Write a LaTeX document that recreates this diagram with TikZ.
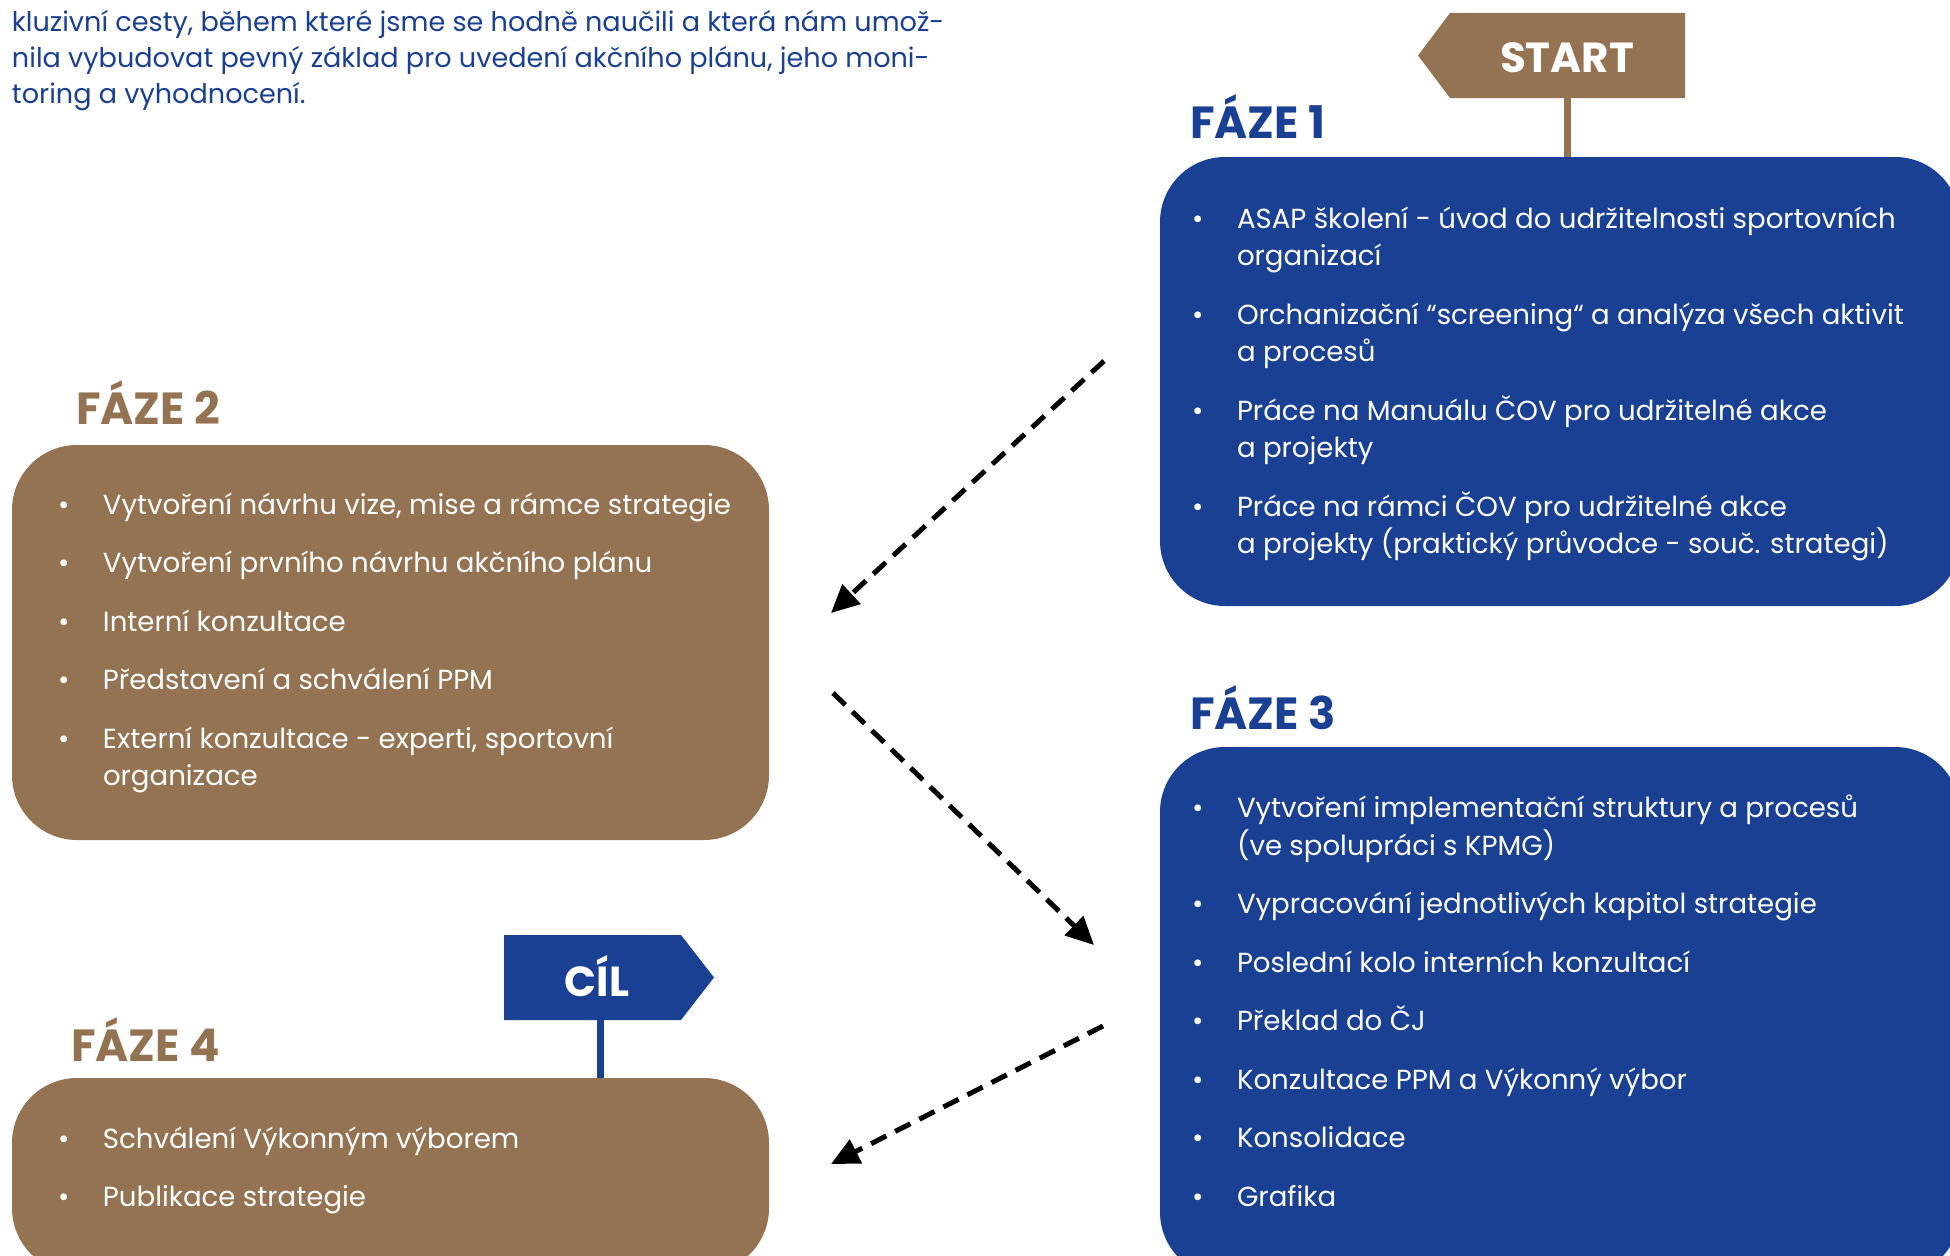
\documentclass[tikz,border=0pt]{standalone}
\usepackage{fontspec}
\setmainfont{Poppins}
\usetikzlibrary{arrows.meta}
\usetikzlibrary{positioning}

\newcommand{\bul}{\makebox[45pt][l]{\textbullet}}
\newcommand{\ind}{\hspace*{45pt}}

\begin{document}
\begin{tikzpicture}[x=1pt, y=-1pt, every node/.style={inner sep=0, outer sep=0},
    phasebox/.style={rounded corners=65pt, anchor=north west},
    phasetitle/.style={anchor=base west, font=\fontsize{45}{50}\selectfont\bfseries},
    listtext/.style={anchor=base west, align=left, text=white, font=\fontsize{27.6}{37.5}\selectfont},
    signtext/.style={anchor=base, text=white, font=\fontsize{42}{50}\selectfont\bfseries},
    post/.style={line width=7pt},
    flow/.style={line width=5pt, dash pattern=on 17pt off 10pt, -{Triangle[length=28pt, width=26pt]}}]
        % Colors
        \definecolor{czblue}{RGB}{26,64,148}
        \definecolor{czbrown}{RGB}{147,115,82}

        \useasboundingbox (0,0) rectangle (1950,1255);
        \clip (0,0) rectangle (1950,1255);

        % Intro text (base = last line)
        \node[anchor=base west, align=left, text=czblue, font=\fontsize{27.1}{36}\selectfont] (intro) at (12,103)
          {kluzivní cesty, během které jsme se hodně naučili a která nám umož-\\
           nila vybudovat pevný základ pro uvedení akčního plánu, jeho moni-\\
           toring a vyhodnocení.};

        % Phase boxes
        \node[phasebox, fill=czblue, minimum width=800pt, minimum height=449pt] (box1) at (1160,157) {};
        \node[phasebox, fill=czbrown, minimum width=757pt, minimum height=395pt] (box2) at (12,445) {};
        \node[phasebox, fill=czblue, minimum width=800pt, minimum height=530pt] (box3) at (1160,747) {};
        \node[phasebox, fill=czbrown, minimum width=757pt, minimum height=195pt] (box4) at (12,1078) {};

        \node[phasetitle, text=czblue] (title1) at (1190,138) {FÁZE 1};
        \node[phasetitle, text=czbrown] (title2) at (76,424) {FÁZE 2};
        \node[phasetitle, text=czblue] (title3) at (1190,729) {FÁZE 3};
        \node[phasetitle, text=czbrown] (title4) at (71,1061) {FÁZE 4};

        % START sign
        \fill[czbrown] (1450,13) -- (1685,13) -- (1685,98) -- (1450,98) -- (1418,55.5) -- cycle;
        \node[signtext] (start) at (1567,72) {START};
        \draw[post, czbrown] (start |- 0,98) -- (start |- box1.north);

        % CIL sign
        \fill[czblue] (504,935) -- (681,935) -- (714,977.5) -- (681,1020) -- (504,1020) -- cycle;
        \node[signtext] (goal) at (597,996) {CÍL};
        \draw[post, czblue] (600,1020) -- (600,1078);

        % Lists (base = last line)
        \node[listtext] (list1) at (1192,553.5)
          {\bul ASAP školení - úvod do udržitelnosti sportovních\\
           \ind organizací\\[21pt]
           \bul Orchanizační “screening“ a analýza všech aktivit\\
           \ind a procesů\\[21pt]
           \bul Práce na Manuálu ČOV pro udržitelné akce\\
           \ind a projekty\\[21pt]
           \bul Práce na rámci ČOV pro udržitelné akce\\
           \ind a projekty (praktický průvodce - souč. strategi)};

        \node[listtext] (list2) at (58,785.5)
          {\bul Vytvoření návrhu vize, mise a rámce strategie\\[21pt]
           \bul Vytvoření prvního návrhu akčního plánu\\[21pt]
           \bul Interní konzultace\\[21pt]
           \bul Představení a schválení PPM\\[21pt]
           \bul Externí konzultace - experti, sportovní\\
           \ind organizace};

        \node[listtext] (list3) at (1192,1206)
          {\bul Vytvoření implementační struktury a procesů\\
           \ind (ve spolupráci s KPMG)\\[21pt]
           \bul Vypracování jednotlivých kapitol strategie\\[21pt]
           \bul Poslední kolo interních konzultací\\[21pt]
           \bul Překlad do ČJ\\[21pt]
           \bul Konzultace PPM a Výkonný výbor\\[21pt]
           \bul Konsolidace\\[21pt]
           \bul Grafika};

        \node[listtext] (list4) at (58,1206.5)
          {\bul Schválení Výkonným výborem\\[21pt]
           \bul Publikace strategie};

        % Flow arrows
        \coordinate (f1a) at (1104,361);
        \coordinate (f1b) at (831,613);
        \coordinate (f2a) at (833,693);
        \coordinate (f2b) at (1094,945);
        \coordinate (f3a) at (1103,1026);
        \coordinate (f3b) at (831,1164);
        \draw[flow] (f1a) -- (f1b);
        \draw[flow] (f2a) -- (f2b);
        \draw[flow] (f3a) -- (f3b);
      \end{tikzpicture}
\end{document}
